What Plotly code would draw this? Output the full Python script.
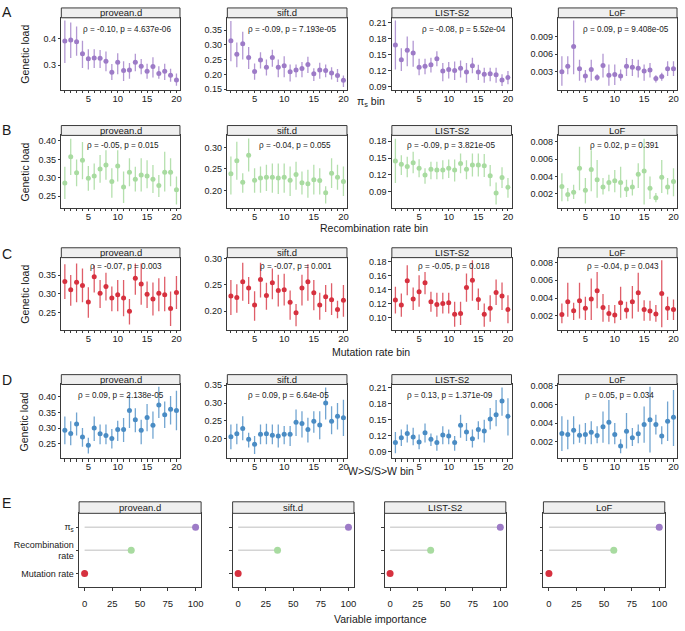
import plotly.graph_objects as go

W, H = 685, 631
FONT = "Arial, Liberation Sans, sans-serif"

bins = list(range(1, 21))
metrics = ["provean.d", "sift.d", "LIST-S2", "LoF"]
bin_tick_vals = list(range(1, 21))
bin_tick_text = ["5" if b == 5 else "10" if b == 10 else "15" if b == 15 else "20" if b == 20 else "" for b in bin_tick_vals]

# ---------------- A: pi_s bin ----------------
pis_provean_mean = [0.390,0.394,0.388,0.343,0.324,0.327,0.326,0.315,0.274,0.311,0.280,0.282,0.311,0.296,0.278,0.295,0.269,0.278,0.263,0.245]
pis_provean_lo   = [0.308,0.327,0.335,0.290,0.284,0.290,0.290,0.278,0.245,0.266,0.241,0.250,0.278,0.266,0.250,0.254,0.250,0.245,0.238,0.223]
pis_provean_hi   = [0.467,0.459,0.445,0.391,0.360,0.360,0.357,0.351,0.305,0.345,0.315,0.308,0.343,0.323,0.306,0.330,0.296,0.306,0.287,0.269]
pis_sift_mean = [0.314,0.268,0.304,0.257,0.210,0.249,0.224,0.257,0.224,0.229,0.209,0.215,0.220,0.234,0.202,0.215,0.213,0.205,0.196,0.180]
pis_sift_lo   = [0.245,0.224,0.251,0.218,0.182,0.220,0.196,0.226,0.190,0.190,0.176,0.190,0.190,0.205,0.178,0.185,0.190,0.183,0.174,0.157]
pis_sift_hi   = [0.381,0.308,0.345,0.293,0.237,0.275,0.251,0.284,0.251,0.262,0.234,0.234,0.242,0.260,0.221,0.240,0.234,0.224,0.218,0.196]
pis_list_mean = [0.168,0.140,0.158,0.153,0.126,0.128,0.131,0.142,0.119,0.122,0.120,0.124,0.117,0.129,0.117,0.113,0.114,0.112,0.102,0.107]
pis_list_lo   = [0.122,0.119,0.128,0.127,0.111,0.113,0.116,0.128,0.100,0.105,0.102,0.107,0.097,0.115,0.102,0.097,0.100,0.097,0.091,0.094]
pis_list_hi   = [0.214,0.162,0.184,0.176,0.142,0.142,0.144,0.156,0.134,0.136,0.137,0.139,0.134,0.144,0.131,0.125,0.125,0.125,0.113,0.119]
pis_lof_mean = [0.0030,0.00395,0.00732,0.0035,0.00227,0.00339,0.0020,0.00406,0.00238,0.0025,0.00227,0.00395,0.00378,0.00361,0.0031,0.00328,0.00182,0.00216,0.0035,0.0035]
pis_lof_lo   = [0.00058,0.00255,0.00255,0.00143,0.00115,0.00143,0.00143,0.0020,0.00058,0.0007,0.00143,0.00227,0.00227,0.0020,0.00143,0.0020,0.00115,0.00143,0.00227,0.00227]
pis_lof_hi   = [0.00563,0.00563,0.0118,0.00507,0.00328,0.00507,0.00255,0.00608,0.00423,0.00423,0.00339,0.00535,0.00518,0.00507,0.00423,0.00451,0.00238,0.00283,0.00479,0.00479]

# ---------------- B: recombination rate bin ----------------
rec_provean_mean = [0.286,0.357,0.314,0.348,0.299,0.305,0.324,0.335,0.290,0.332,0.275,0.315,0.296,0.308,0.305,0.296,0.279,0.315,0.315,0.268]
rec_provean_lo   = [0.243,0.308,0.277,0.296,0.265,0.268,0.287,0.295,0.246,0.290,0.232,0.277,0.263,0.263,0.272,0.259,0.248,0.263,0.277,0.228]
rec_provean_hi   = [0.330,0.406,0.350,0.397,0.332,0.339,0.362,0.375,0.326,0.375,0.317,0.353,0.330,0.353,0.348,0.335,0.308,0.371,0.353,0.304]
rec_sift_mean = [0.239,0.269,0.219,0.282,0.224,0.229,0.231,0.231,0.229,0.231,0.224,0.237,0.218,0.216,0.225,0.223,0.195,0.240,0.231,0.221]
rec_sift_lo   = [0.191,0.225,0.195,0.244,0.195,0.195,0.199,0.195,0.192,0.195,0.187,0.202,0.191,0.183,0.191,0.191,0.170,0.206,0.202,0.187]
rec_sift_hi   = [0.279,0.313,0.240,0.321,0.252,0.256,0.260,0.263,0.263,0.263,0.256,0.267,0.244,0.248,0.260,0.252,0.210,0.275,0.260,0.256]
rec_list_mean = [0.1446,0.1388,0.1348,0.1417,0.132,0.120,0.130,0.129,0.129,0.132,0.129,0.1405,0.130,0.1377,0.1377,0.1365,0.1185,0.0884,0.1156,0.0982]
rec_list_lo   = [0.1058,0.120,0.116,0.123,0.116,0.1046,0.1127,0.1127,0.1127,0.1145,0.1087,0.123,0.1127,0.1174,0.1174,0.1163,0.100,0.068,0.097,0.0797]
rec_list_hi   = [0.184,0.155,0.152,0.161,0.148,0.132,0.1435,0.1435,0.146,0.1475,0.1475,0.158,0.146,0.158,0.158,0.157,0.1377,0.1069,0.1336,0.1145]
rec_lof_mean = [0.00284,0.00189,0.00216,0.00494,0.00238,0.00479,0.00361,0.00277,0.0033,0.00349,0.0033,0.00254,0.00277,0.00426,0.00464,0.00261,0.00151,0.00391,0.00277,0.00342]
rec_lof_lo   = [0.00112,0.00112,0.00139,0.00238,0.00086,0.00227,0.00151,0.00189,0.00227,0.00216,0.00151,0.00162,0.00177,0.00265,0.00074,0.00139,0.00101,0.00208,0.00189,0.0017]
rec_lof_hi   = [0.00437,0.00265,0.00303,0.00743,0.0038,0.00705,0.0059,0.0038,0.00418,0.00475,0.00513,0.00361,0.00361,0.00552,0.00838,0.00399,0.00208,0.0059,0.0038,0.00494]

# ---------------- C: mutation rate bin ----------------
mut_provean_mean = [0.3326,0.3109,0.3309,0.3222,0.2787,0.3457,0.302,0.3196,0.289,0.2978,0.289,0.2543,0.3413,0.3265,0.2995,0.2865,0.302,0.2978,0.2613,0.3039]
mut_provean_lo   = [0.2865,0.269,0.2778,0.2778,0.2369,0.304,0.263,0.283,0.2543,0.2543,0.2413,0.2195,0.2978,0.2717,0.263,0.243,0.2543,0.2543,0.2152,0.2604]
mut_provean_hi   = [0.3787,0.35,0.3805,0.3674,0.3178,0.376,0.337,0.356,0.3196,0.337,0.337,0.2865,0.3805,0.3805,0.3326,0.33,0.3413,0.3457,0.3065,0.3474]
mut_sift_mean = [0.2288,0.2258,0.2561,0.2439,0.2118,0.2603,0.23,0.2542,0.2391,0.2409,0.2167,0.1967,0.2439,0.2561,0.2348,0.2118,0.2276,0.2215,0.2033,0.2209]
mut_sift_lo   = [0.1924,0.1967,0.2197,0.2136,0.1815,0.2258,0.2027,0.2227,0.2088,0.2106,0.1833,0.1712,0.2106,0.2197,0.2015,0.1833,0.1985,0.1924,0.1864,0.1894]
mut_sift_hi   = [0.2591,0.2512,0.2924,0.2652,0.2379,0.2924,0.2542,0.2815,0.2694,0.2712,0.2391,0.2136,0.2694,0.2894,0.2591,0.2348,0.25,0.253,0.2197,0.25]
mut_list_mean = [0.1253,0.1181,0.1529,0.1267,0.1372,0.15,0.1229,0.1191,0.1205,0.1215,0.1048,0.1062,0.1433,0.1538,0.1262,0.1048,0.1134,0.1362,0.131,0.1119]
mut_list_lo   = [0.1062,0.1015,0.1324,0.111,0.1157,0.1338,0.1086,0.1015,0.1062,0.1062,0.0872,0.0896,0.1229,0.1243,0.111,0.0872,0.0943,0.1181,0.111,0.0919]
mut_list_hi   = [0.1443,0.1348,0.1752,0.1433,0.161,0.1657,0.1372,0.1357,0.1357,0.1357,0.1229,0.1229,0.1633,0.1824,0.1419,0.1205,0.1324,0.1548,0.1505,0.1324]
mut_lof_mean = [0.00215,0.00358,0.00256,0.00369,0.00283,0.00388,0.00481,0.00294,0.00226,0.00208,0.00346,0.00264,0.00358,0.00459,0.00271,0.00253,0.00219,0.00451,0.00283,0.00271]
mut_lof_lo   = [0.00114,0.00189,0.00151,0.0017,0.00151,0.00151,0.00283,0.00133,0.00133,0.00114,0.00151,0.0017,0.0017,0.00245,0.00144,0.00144,0.00133,0.00069,0.00151,0.00151]
mut_lof_hi   = [0.00339,0.00571,0.00346,0.00571,0.00414,0.0062,0.00695,0.00444,0.0032,0.0032,0.00526,0.00358,0.00535,0.00684,0.00376,0.00369,0.0032,0.00826,0.00414,0.00384]

# ---------------- D: W>S/S>W bin ----------------
ws_provean_mean = [0.2929,0.2824,0.3129,0.2709,0.2446,0.3003,0.2814,0.2761,0.2667,0.295,0.295,0.3559,0.3265,0.2929,0.3339,0.3087,0.3738,0.3423,0.3601,0.3559]
ws_provean_lo   = [0.2478,0.2446,0.2761,0.2404,0.2184,0.2583,0.2478,0.2478,0.2341,0.2583,0.2551,0.3003,0.2866,0.2478,0.2898,0.2656,0.3318,0.3003,0.3108,0.2929]
ws_provean_hi   = [0.337,0.3213,0.3496,0.3003,0.2688,0.337,0.3108,0.3108,0.2971,0.3234,0.3318,0.4053,0.3633,0.3265,0.3769,0.3528,0.4315,0.3843,0.4021,0.4189]
ws_sift_mean = [0.2056,0.2139,0.2287,0.1981,0.1843,0.212,0.2139,0.2093,0.2074,0.212,0.212,0.2463,0.2426,0.2259,0.2491,0.238,0.30,0.2491,0.263,0.2583]
ws_sift_lo   = [0.1704,0.1843,0.1954,0.175,0.1565,0.1843,0.1843,0.1843,0.175,0.1843,0.1796,0.2074,0.2028,0.1889,0.2167,0.1981,0.2537,0.212,0.2259,0.2074]
ws_sift_hi   = [0.2398,0.2417,0.263,0.2167,0.2074,0.2398,0.2417,0.2398,0.2398,0.2352,0.2352,0.2815,0.2769,0.2583,0.2769,0.2769,0.3435,0.2907,0.30,0.3093]
ws_list_mean = [0.1067,0.1159,0.1239,0.1171,0.1079,0.1251,0.1128,0.1067,0.1208,0.119,0.1067,0.1393,0.1264,0.1141,0.1313,0.1282,0.151,0.159,0.1848,0.1559]
ws_list_lo   = [0.087,0.1005,0.1067,0.1018,0.0944,0.1067,0.1005,0.0913,0.1036,0.1036,0.0913,0.1159,0.1098,0.0975,0.1128,0.1067,0.1313,0.1374,0.1571,0.1202]
ws_list_hi   = [0.1264,0.1313,0.1405,0.1344,0.122,0.1424,0.1239,0.1202,0.1374,0.1313,0.119,0.159,0.1436,0.1313,0.1467,0.1497,0.1713,0.1866,0.21,0.1897]
ws_lof_mean = [0.00288,0.00278,0.00323,0.0027,0.00278,0.00302,0.00267,0.00359,0.00408,0.00278,0.00154,0.00313,0.00242,0.00285,0.00383,0.00436,0.00383,0.0026,0.00419,0.00461]
ws_lof_lo   = [0.00101,0.00119,0.00172,0.00189,0.00172,0.00172,0.00182,0.00189,0.00172,0.00172,0.00076,0.00126,0.00154,0.00182,0.00189,0.00083,0.00278,0.00172,0.00207,0.00154]
ws_lof_hi   = [0.00472,0.00436,0.00472,0.00383,0.00401,0.00419,0.00366,0.00525,0.00648,0.00401,0.00225,0.00507,0.00348,0.00383,0.00578,0.0079,0.00489,0.00366,0.00631,0.00754]

stats_pis = ["ρ = -0.10, p = 4.637e-06", "ρ = -0.09, p = 7.193e-05", "ρ = -0.08, p = 5.52e-04", "ρ = 0.09, p = 9.408e-05"]
stats_rec = ["ρ = -0.05, p = 0.015", "ρ = -0.04, p = 0.055", "ρ = -0.09, p = 3.821e-05", "ρ = 0.02, p = 0.391"]
stats_mut = ["ρ = -0.07, p = 0.003", "ρ = -0.07, p = 0.001", "ρ = -0.05, p = 0.018", "ρ = -0.04, p = 0.043"]
stats_ws  = ["ρ = 0.09, p = 2.138e-05", "ρ = 0.09, p = 6.64e-05", "ρ = 0.13, p = 1.371e-09", "ρ = 0.05, p = 0.034"]

# ---------------- E: variable importance ----------------
imp_labels = ["Mutation rate", "Recombination<br>rate", "π<sub>s</sub>"]
imp_mutation = [0, 0, 0, 0]
imp_recombination = [42, 35.7, 36.8, 58.8]
imp_pis = [100, 100, 100, 100]

# ---------------- layout config ----------------
row_colors = ["#9d7bc7", "#a8dba0", "#d6313f", "#4a8cc4"]
row_err_colors = ["rgba(157,123,199,0.78)", "rgba(168,219,160,0.85)", "rgba(214,49,63,0.78)", "rgba(74,140,196,0.78)"]
row_letters = ["A", "B", "C", "D"]
row_titles = ["π<sub>s</sub> bin", "Recombination rate bin", "Mutation rate bin", "W>S/S>W bin"]
row_stats = [stats_pis, stats_rec, stats_mut, stats_ws]
row_series = [
    [(pis_provean_mean, pis_provean_lo, pis_provean_hi), (pis_sift_mean, pis_sift_lo, pis_sift_hi),
     (pis_list_mean, pis_list_lo, pis_list_hi), (pis_lof_mean, pis_lof_lo, pis_lof_hi)],
    [(rec_provean_mean, rec_provean_lo, rec_provean_hi), (rec_sift_mean, rec_sift_lo, rec_sift_hi),
     (rec_list_mean, rec_list_lo, rec_list_hi), (rec_lof_mean, rec_lof_lo, rec_lof_hi)],
    [(mut_provean_mean, mut_provean_lo, mut_provean_hi), (mut_sift_mean, mut_sift_lo, mut_sift_hi),
     (mut_list_mean, mut_list_lo, mut_list_hi), (mut_lof_mean, mut_lof_lo, mut_lof_hi)],
    [(ws_provean_mean, ws_provean_lo, ws_provean_hi), (ws_sift_mean, ws_sift_lo, ws_sift_hi),
     (ws_list_mean, ws_list_lo, ws_list_hi), (ws_lof_mean, ws_lof_lo, ws_lof_hi)],
]
y_axes_cfg = [
    [([0.2085, 0.477], [0.3, 0.4], ".1f"), ([0.148, 0.392], [0.15, 0.20, 0.25, 0.30, 0.35], ".2f"),
     ([0.0838, 0.219], [0.09, 0.12, 0.15, 0.18, 0.21], ".2f"), ([-0.0001, 0.01225], [0.003, 0.006, 0.009], ".3f")],
    [([0.219, 0.415], [0.25, 0.30, 0.35, 0.40], ".2f"), ([0.160, 0.328], [0.20, 0.25, 0.30], ".2f"),
     ([0.0622, 0.1899], [0.09, 0.12, 0.15, 0.18], ".2f"), ([0.00036, 0.00876], [0.002, 0.004, 0.006, 0.008], ".3f")],
    [([0.2048, 0.396], [0.25, 0.30, 0.35], ".2f"), ([0.164, 0.302], [0.20, 0.25, 0.30], ".2f"),
     ([0.0824, 0.1862], [0.10, 0.12, 0.14, 0.16, 0.18], ".2f"), ([0.00039, 0.00856], [0.002, 0.004, 0.006, 0.008], ".3f")],
    [([0.2028, 0.439], [0.25, 0.30, 0.35, 0.40], ".2f"), ([0.1444, 0.352], [0.20, 0.25, 0.30, 0.35], ".2f"),
     ([0.0771, 0.2155], [0.09, 0.12, 0.15, 0.18, 0.21], ".2f"), ([0.0002, 0.00814], [0.002, 0.004, 0.006, 0.008], ".3f")],
]

col_px = [(61.5, 180.5), (228, 348), (393, 513), (560, 679)]
row_px = [(14, 87), (133.3, 206.7), (257.3, 330.7), (386, 461)]
row_stat_px = [26, 143.5, 266.5, 397.5]
stat_center_px = [[127.5, 292.5, 465, 627.5], [123, 295.5, 452.5, 626.5],
                  [126, 296.5, 455.5, 624.5], [121, 289.5, 451, 621]]
row_letter_px = [8, 128, 254, 381]
row_title_px = [(372, 99), (375, 227), (372, 353), (382, 474)]
strip_h = 10
col_px_e = [(79.3, 201.7), (233.3, 355), (385.7, 507.3), (545, 666.7)]
row_px_e = (516.7, 591.7)
strip_h_e = 11.7

def fx(p):
    return p / W

def fy(p):
    return 1 - p / H

AX_LINE = "#3a3a3a"
TXT = "#1a1a1a"
fig = go.Figure()
shapes, annotations = [], []
layout_axes = {}

def add_strip(x0, x1, ytop, h, text):
    shapes.append(dict(type="rect", xref="paper", yref="paper", x0=fx(x0), x1=fx(x1),
                       y0=fy(ytop), y1=fy(ytop - h), fillcolor="#efefef",
                       line=dict(color=AX_LINE, width=1), layer="above"))
    annotations.append(dict(xref="paper", yref="paper", x=fx((x0 + x1) / 2), y=fy(ytop - h / 2),
                            text=text, showarrow=False, xanchor="center", yanchor="middle",
                            font=dict(size=9.5, color=TXT, family=FONT)))

n = 0
for r in range(4):
    for c in range(4):
        n += 1
        mean, lo, hi = row_series[r][c]
        plus = [h - m for h, m in zip(hi, mean)]
        minus = [m - l for m, l in zip(mean, lo)]
        fig.add_trace(go.Scatter(
            x=bins, y=mean, mode="markers", xaxis=f"x{n}", yaxis=f"y{n}",
            marker=dict(color=row_colors[r], size=5, line=dict(width=0)),
            error_y=dict(type="data", symmetric=False, array=plus, arrayminus=minus,
                         color=row_err_colors[r], thickness=1.3, width=0),
            showlegend=False, hoverinfo="skip"))
        yr, yt, yf = y_axes_cfg[r][c]
        x0, x1 = col_px[c]
        ya, yb = row_px[r]
        layout_axes[f"xaxis{n}"] = dict(
            domain=[fx(x0), fx(x1)], anchor=f"y{n}", range=[0.4, 20.6],
            tickmode="array", tickvals=bin_tick_vals, ticktext=bin_tick_text,
            ticks="outside", ticklen=2.5, tickwidth=1, tickcolor=AX_LINE,
            ticklabeloverflow="allow", ticklabelstandoff=-3,
            showline=True, linecolor=AX_LINE, linewidth=1, mirror=True,
            showgrid=False, zeroline=False, tickfont=dict(size=9.5, color=TXT, family=FONT))
        layout_axes[f"yaxis{n}"] = dict(
            domain=[fy(yb), fy(ya)], anchor=f"x{n}", range=yr,
            tickmode="array", tickvals=yt, tickformat=yf,
            ticks="outside", ticklen=2.5, tickwidth=1, tickcolor=AX_LINE,
            showline=True, linecolor=AX_LINE, linewidth=1, mirror=True,
            showgrid=False, zeroline=False, tickfont=dict(size=9, color=TXT, family=FONT))
        add_strip(x0, x1, ya, strip_h, metrics[c])
        annotations.append(dict(xref="paper", yref="paper", x=fx(stat_center_px[r][c]), y=fy(row_stat_px[r]),
                                text=row_stats[r][c], showarrow=False, xanchor="center", yanchor="middle",
                                font=dict(size=8.2, color=TXT, family=FONT)))
    ya, yb = row_px[r]
    annotations.append(dict(xref="paper", yref="paper", x=fx(25), y=fy((ya + yb) / 2),
                            text="Genetic load", textangle=-90, showarrow=False,
                            xanchor="center", yanchor="middle",
                            font=dict(size=10.5, color=TXT, family=FONT)))
    annotations.append(dict(xref="paper", yref="paper", x=fx(7), y=fy(row_letter_px[r]),
                            text=row_letters[r], showarrow=False, xanchor="center", yanchor="middle",
                            font=dict(size=14, color=TXT, family=FONT)))
    tx, ty = row_title_px[r]
    annotations.append(dict(xref="paper", yref="paper", x=fx(tx), y=fy(ty),
                            text=row_titles[r], showarrow=False, xanchor="center", yanchor="middle",
                            font=dict(size=10.5, color=TXT, family=FONT)))

# E row
imp_colors = ["#d6313f", "#a8dba0", "#9d7bc7"]
for c in range(4):
    n += 1
    vals = [imp_mutation[c], imp_recombination[c], imp_pis[c]]
    ypos = [1, 2, 3]
    lx, ly = [], []
    for v, yv in zip(vals, ypos):
        lx += [0, v, None]
        ly += [yv, yv, None]
    fig.add_trace(go.Scatter(x=lx, y=ly, mode="lines", xaxis=f"x{n}", yaxis=f"y{n}",
                             line=dict(color="#d4d4d4", width=1.5), showlegend=False, hoverinfo="skip"))
    fig.add_trace(go.Scatter(x=vals, y=ypos, mode="markers", xaxis=f"x{n}", yaxis=f"y{n}",
                             marker=dict(color=imp_colors, size=7, line=dict(width=0)),
                             showlegend=False, hoverinfo="skip"))
    x0, x1 = col_px_e[c]
    ya, yb = row_px_e
    layout_axes[f"xaxis{n}"] = dict(
        domain=[fx(x0), fx(x1)], anchor=f"y{n}", range=[-5, 105],
        tickmode="array", tickvals=[0, 25, 50, 75, 100],
        ticks="outside", ticklen=2.5, tickwidth=1, tickcolor=AX_LINE, ticklabelstandoff=5,
        ticklabeloverflow="allow",
        showline=True, linecolor=AX_LINE, linewidth=1, mirror=True,
        showgrid=False, zeroline=False, tickfont=dict(size=9.5, color=TXT, family=FONT))
    layout_axes[f"yaxis{n}"] = dict(
        domain=[fy(yb), fy(ya)], anchor=f"x{n}", range=[0.4, 3.6],
        tickmode="array", tickvals=[1, 2, 3], ticktext=imp_labels if c == 0 else ["", "", ""],
        ticks="outside", ticklen=2.5, tickwidth=1, tickcolor=AX_LINE,
        showline=True, linecolor=AX_LINE, linewidth=1, mirror=True,
        showgrid=False, zeroline=False, tickfont=dict(size=9, color=TXT, family=FONT))
    add_strip(x0, x1, ya, strip_h_e, metrics[c])

annotations.append(dict(xref="paper", yref="paper", x=fx(7), y=fy(506), text="E", showarrow=False,
                        xanchor="center", yanchor="middle", font=dict(size=14, color=TXT, family=FONT)))
annotations.append(dict(xref="paper", yref="paper", x=fx(382), y=fy(624), text="Variable importance",
                        showarrow=False, xanchor="center", yanchor="middle",
                        font=dict(size=10.5, color=TXT, family=FONT)))

fig.update_layout(width=W, height=H, margin=dict(l=0, r=0, t=0, b=0),
                  paper_bgcolor="white", plot_bgcolor="white",
                  font=dict(family=FONT, color=TXT),
                  shapes=shapes, annotations=annotations, **layout_axes)
fig.write_html("out.html", config={"displayModeBar": False},
               post_script="document.body.style.margin='0';document.body.style.overflow='hidden';")
